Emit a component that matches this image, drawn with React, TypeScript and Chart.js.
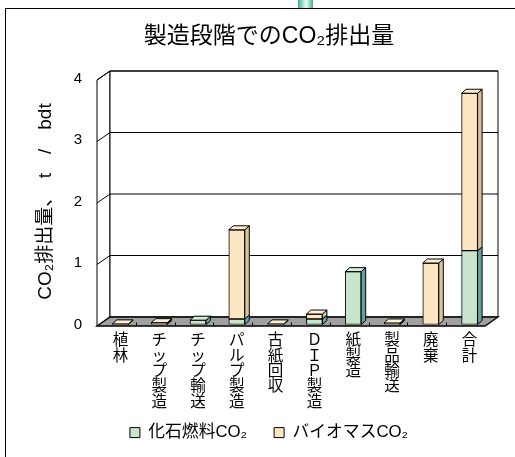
import React, { useEffect, useRef } from 'react';
import { Chart, registerables } from 'chart.js';

Chart.register(...registerables);

// Stages of the paper life cycle, printed one character per line under the axis
const stageNames = ['植林', 'チップ製造', 'チップ輸送', 'パルプ製造', '古紙回収', 'ＤＩＰ製造', '紙製造', '製品輸送', '廃棄', '合計'];
const fossilCO2 = [0, 0.02, 0.07, 0.09, 0, 0.09, 0.86, 0.02, 0, 1.2];
const biomassCO2 = [0.01, 0.01, 0, 1.45, 0.01, 0.08, 0, 0.005, 1.0, 2.56];
const yTickValues = [0, 1, 2, 3, 4];

const titleText = '製造段階でのCO₂排出量';
const yAxisTitle = 'CO₂排出量、　t　/　bdt';
const seriesNames = ['化石燃料CO₂', 'バイオマスCO₂'];

const FONT = "'Liberation Sans', Arial, 'Noto Sans CJK JP', sans-serif";

// face colours: front, right side, top
const faceColors = [
  { front: '#c8e4cc', side: '#62a2a2', top: '#d6eedb' },
  { front: '#fde6c2', side: '#d9c397', top: '#feefd6' },
];

// 3D offsets relative to the plane the bars stand in
const BAR_DX = 4.5;
const BAR_DY = -4;
const FRONT = { x: -4, y: 1.5 };
const BACK = { x: 9, y: -7.5 };

// lower edge of the legend band, in canvas pixels
const LEGEND_BOTTOM = 442;

const box3d = {
  id: 'box3d',
  afterLayout(chart: any) {
    // lift the legend into the free band below the stacked category labels
    const lg = chart.legend;
    if (lg) {
      lg.top = LEGEND_BOTTOM - lg.height;
      lg.bottom = LEGEND_BOTTOM;
    }
  },
  beforeDatasetsDraw(chart: any) {
    const { ctx, chartArea, scales } = chart;
    const ys = scales.y;
    const { left, right } = chartArea;
    const yMin = yTickValues[0];
    const yMax = yTickValues[yTickValues.length - 1];
    const yf = (v: number) => ys.getPixelForValue(v) + FRONT.y;
    const yb = (v: number) => ys.getPixelForValue(v) + BACK.y;
    const fl = left + FRONT.x, fr = right + FRONT.x;
    const bl = left + BACK.x, br = right + BACK.x;

    ctx.save();
    ctx.strokeStyle = '#000';
    ctx.lineWidth = 1;

    // side wall
    ctx.beginPath();
    ctx.moveTo(fl, yf(yMax));
    ctx.lineTo(bl, yb(yMax));
    ctx.lineTo(bl, yb(yMin));
    ctx.lineTo(fl, yf(yMin));
    ctx.closePath();
    ctx.fillStyle = '#fff';
    ctx.fill();
    ctx.stroke();

    // back wall
    ctx.beginPath();
    ctx.rect(bl, yb(yMax), br - bl, yb(yMin) - yb(yMax));
    ctx.fill();
    ctx.stroke();

    // gridlines on walls
    yTickValues.forEach((v) => {
      if (v === yMin) return;
      ctx.beginPath();
      ctx.moveTo(fl, yf(v));
      ctx.lineTo(bl, yb(v));
      ctx.lineTo(br, yb(v));
      ctx.stroke();
    });

    // floor
    ctx.beginPath();
    ctx.moveTo(fl, yf(yMin));
    ctx.lineTo(fr, yf(yMin));
    ctx.lineTo(br, yb(yMin));
    ctx.lineTo(bl, yb(yMin));
    ctx.closePath();
    ctx.fillStyle = '#a0a0a0';
    ctx.fill();
    ctx.lineWidth = 1.3;
    ctx.stroke();

    // category dividers on the floor edge
    ctx.lineWidth = 1;
    const n = stageNames.length;
    const step = (fr - fl) / n;
    for (let k = 1; k < n; k++) {
      const x = Math.round(fl + k * step) + 0.5;
      ctx.beginPath();
      ctx.moveTo(x, yf(yMin));
      ctx.lineTo(x, yf(yMin) - 3.5);
      ctx.stroke();
    }
    ctx.restore();
  },
  afterDatasetsDraw(chart: any) {
    const { ctx } = chart;
    const nSets = chart.data.datasets.length;
    ctx.save();
    ctx.strokeStyle = '#000';
    ctx.lineWidth = 1;
    ctx.lineJoin = 'round';
    for (let i = 0; i < stageNames.length; i++) {
      let topSet = -1;
      for (let d = 0; d < nSets; d++) {
        if ((chart.data.datasets[d].data[i] as number) > 0) topSet = d;
      }
      for (let d = 0; d < nSets; d++) {
        const v = chart.data.datasets[d].data[i] as number;
        if (!(v > 0)) continue;
        const el = chart.getDatasetMeta(d).data[i];
        const { x, y, base, width } = el.getProps(['x', 'y', 'base', 'width'], true);
        const xl = x - width / 2;
        const xr = x + width / 2;
        // right side face
        ctx.beginPath();
        ctx.moveTo(xr, y);
        ctx.lineTo(xr + BAR_DX, y + BAR_DY);
        ctx.lineTo(xr + BAR_DX, base + BAR_DY);
        ctx.lineTo(xr, base);
        ctx.closePath();
        ctx.fillStyle = faceColors[d].side;
        ctx.fill();
        ctx.stroke();
        if (d === topSet) {
          ctx.beginPath();
          ctx.moveTo(xl, y);
          ctx.lineTo(xl + BAR_DX, y + BAR_DY);
          ctx.lineTo(xr + BAR_DX, y + BAR_DY);
          ctx.lineTo(xr, y);
          ctx.closePath();
          ctx.fillStyle = faceColors[d].top;
          ctx.fill();
          ctx.stroke();
        }
      }
    }
    ctx.restore();
  },
};

export default function App() {
  const canvasRef = useRef<HTMLCanvasElement>(null);

  useEffect(() => {
    Chart.defaults.font.family = FONT;
    Chart.defaults.color = '#000';
    const chart = new Chart(canvasRef.current!, {
      type: 'bar',
      data: {
        labels: stageNames.map((s) => Array.from(s)),
        datasets: [
          {
            label: seriesNames[0],
            data: fossilCO2,
            backgroundColor: faceColors[0].front,
            borderColor: '#000',
            borderWidth: 1,
            borderSkipped: false,
            barThickness: 16,
          },
          {
            label: seriesNames[1],
            data: biomassCO2,
            backgroundColor: faceColors[1].front,
            borderColor: '#000',
            borderWidth: 1,
            borderSkipped: false,
            barThickness: 16,
          },
        ],
      },
      options: {
        responsive: false,
        animation: false,
        devicePixelRatio: 1,
        layout: { padding: 0 },
        plugins: {
          title: {
            display: true,
            text: titleText,
            color: '#000',
            font: { size: 23, weight: 'normal', family: FONT, lineHeight: 1.2 },
            padding: { top: 14, bottom: 27.9 },
          },
          legend: {
            position: 'bottom',
            labels: {
              boxWidth: 10,
              boxHeight: 10,
              padding: 27,
              color: '#000',
              font: { size: 16.8, family: FONT },
            },
          },
          tooltip: { enabled: false },
        },
        scales: {
          x: {
            stacked: true,
            grid: { display: false, drawTicks: false },
            border: { display: false },
            ticks: {
              autoSkip: false,
              maxRotation: 0,
              minRotation: 0,
              padding: 9,
              color: '#000',
              font: { size: 15.5, family: FONT, lineHeight: '15.3px' as any },
            },
            afterFit: (s: any) => {
              const lg = s.chart.legend ? s.chart.legend.height : 0;
              s.height = s.chart.height - lg - 315.5;
            },
          },
          y: {
            stacked: true,
            min: yTickValues[0],
            max: yTickValues[yTickValues.length - 1],
            grid: { display: false, drawTicks: false },
            border: { display: false },
            ticks: {
              stepSize: 1,
              padding: 19,
              color: '#000',
              font: { size: 15, family: FONT },
            },
            title: {
              display: true,
              text: yAxisTitle,
              color: '#000',
              font: { size: 19, family: FONT, lineHeight: 1.2 },
              padding: { top: 28, bottom: 0 },
            },
            afterFit: (s: any) => {
              s.width = 95;
            },
          },
          // empty right-hand band that keeps the plot clear of the frame's right side
          yRight: {
            position: 'right',
            display: true,
            grid: { display: false, drawTicks: false },
            border: { display: false },
            ticks: { display: false },
            afterFit: (s: any) => {
              s.width = 43;
            },
          },
        },
      },
      plugins: [box3d],
    });
    return () => chart.destroy();
  }, []);

  return (
    <div
      style={{
        position: 'fixed',
        left: 0,
        top: 0,
        width: 515,
        height: 457,
        overflow: 'hidden',
        background: '#fff',
      }}
    >
      <div
        style={{
          position: 'absolute',
          left: 298,
          top: 0,
          width: 15,
          height: 8,
          background: 'linear-gradient(90deg, #3aae92 0%, #9fdcc8 30%, #eefaf5 55%, #9fdcc8 75%, #3aae92 100%)',
        }}
      />
      <div
        style={{
          position: 'absolute',
          left: 5,
          top: 8,
          width: 526,
          height: 490,
          border: '1px solid #000',
          background: '#fff',
        }}
      >
        <canvas ref={canvasRef} width={526} height={480} style={{ display: 'block' }} />
      </div>
    </div>
  );
}
